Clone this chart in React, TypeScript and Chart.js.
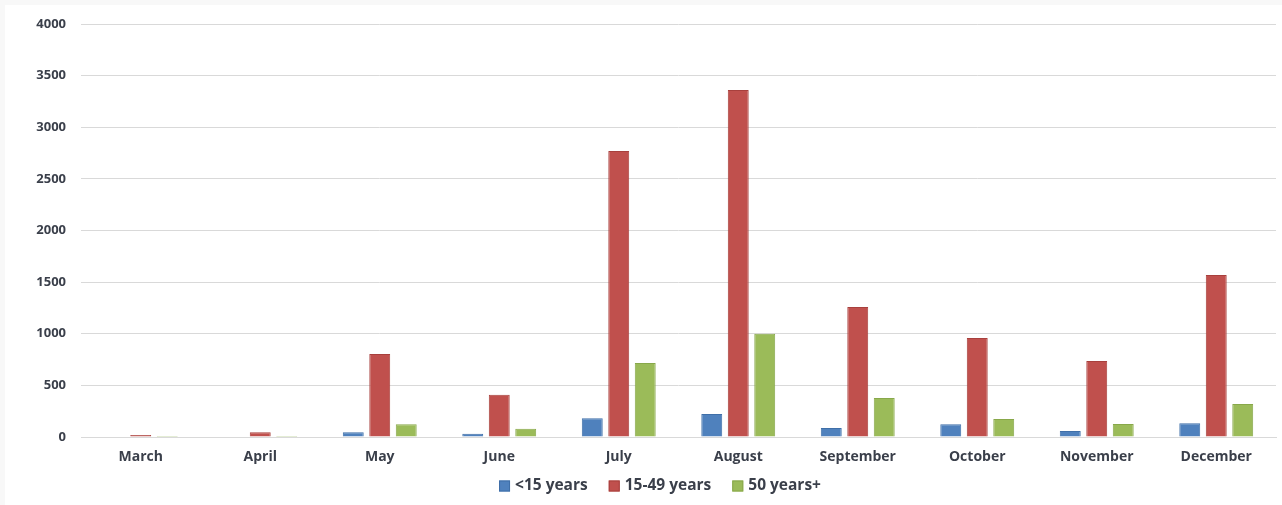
import React, { useEffect, useRef } from "react";
import { Chart, registerables } from "chart.js";

Chart.register(...registerables);

const months = ["March", "April", "May", "June", "July", "August", "September", "October", "November", "December"];
const under15 = [0, 5, 45, 32, 181, 223, 87, 123, 58, 133];
const age15to49 = [20, 45, 804, 410, 2770, 3360, 1260, 960, 736, 1570];
const over50 = [10, 10, 123, 80, 717, 1000, 378, 174, 126, 320];
const seriesNames = ["<15 years", "15-49 years", "50 years+"];
const yTicks = [0, 500, 1000, 1500, 2000, 2500, 3000, 3500, 4000];

const FAMILY = "'Open Sans', 'Liberation Sans', sans-serif";
const TEXT_COLOR = "#3a3f4a";

// Custom legend drawn on the Chart.js canvas (Excel-like spacing)
const excelLegend = {
  id: "excelLegend",
  afterDraw(chart: any) {
    const ctx = chart.ctx;
    const datasets = chart.data.datasets;
    const box = 11;
    const boxGap = 5;
    const itemGap = 21;
    const centerX = 660;
    const centerY = 486;
    ctx.save();
    ctx.font = `bold 15.5px ${FAMILY}`;
    ctx.textBaseline = "middle";
    ctx.textAlign = "left";
    const widths = datasets.map((d: any) => ctx.measureText(d.label).width);
    const total = widths.reduce((a: number, w: number) => a + box + boxGap + w, 0) + itemGap * (datasets.length - 1);
    let x = centerX - total / 2;
    datasets.forEach((d: any, i: number) => {
      ctx.fillStyle = d.backgroundColor;
      ctx.fillRect(x, centerY - box / 2, box, box);
      ctx.strokeStyle = d.borderColor;
      ctx.lineWidth = 1;
      ctx.strokeRect(x + 0.5, centerY - box / 2 + 0.5, box - 1, box - 1);
      ctx.fillStyle = TEXT_COLOR;
      ctx.fillText(d.label, x + box + boxGap, centerY);
      x += box + boxGap + widths[i] + itemGap;
    });
    ctx.restore();
  },
};

export default function App() {
  const ref = useRef<HTMLCanvasElement>(null);
  useEffect(() => {
    if (!ref.current) return;
    const chart = new Chart(ref.current, {
      type: "bar",
      data: {
        labels: months,
        datasets: [
          { label: seriesNames[0], data: under15, backgroundColor: "#4F81BD", borderColor: "#3F6FA8", borderWidth: 1 },
          { label: seriesNames[1], data: age15to49, backgroundColor: "#C0504D", borderColor: "#A8403D", borderWidth: 1 },
          { label: seriesNames[2], data: over50, backgroundColor: "#9BBB59", borderColor: "#88A84A", borderWidth: 1 },
        ],
      },
      plugins: [excelLegend],
      options: {
        animation: false,
        responsive: false,
        maintainAspectRatio: false,
        layout: { padding: { left: 0, right: 6, top: 24, bottom: 36 } },
        datasets: { bar: { categoryPercentage: 0.665, barPercentage: 0.79 } },
        plugins: {
          tooltip: { enabled: false },
          legend: { display: false },
        },
        scales: {
          x: {
            grid: { display: false, drawTicks: false },
            border: { display: true, color: "#d9d9d9", width: 1 },
            ticks: { font: { family: FAMILY, size: 14, weight: "bold" }, color: TEXT_COLOR, padding: 12, maxRotation: 0 },
            afterFit: (s: any) => { s.height = 32; },
          },
          y: {
            min: 0,
            max: 4000,
            afterBuildTicks: (s: any) => { s.ticks = yTicks.map((v) => ({ value: v })); },
            grid: { color: "#d9d9d9", lineWidth: 1, drawTicks: false },
            border: { display: false },
            ticks: {
              font: { family: FAMILY, size: 13, weight: "bold" },
              color: TEXT_COLOR,
              padding: 15,
              callback: (v: any) => String(v),
            },
            afterFit: (s: any) => { s.width = 81; },
          },
        },
      },
    });
    return () => chart.destroy();
  }, []);
  return (
    <div style={{ position: "fixed", left: 0, top: 0, width: 1282, height: 505, background: "#f8f8f8" }}>
      <div style={{ position: "absolute", left: 5, top: 5, width: 1277, height: 500, background: "#ffffff" }} />
      <canvas ref={ref} width={1282} height={505} style={{ position: "absolute", left: 0, top: 0 }} />
    </div>
  );
}
